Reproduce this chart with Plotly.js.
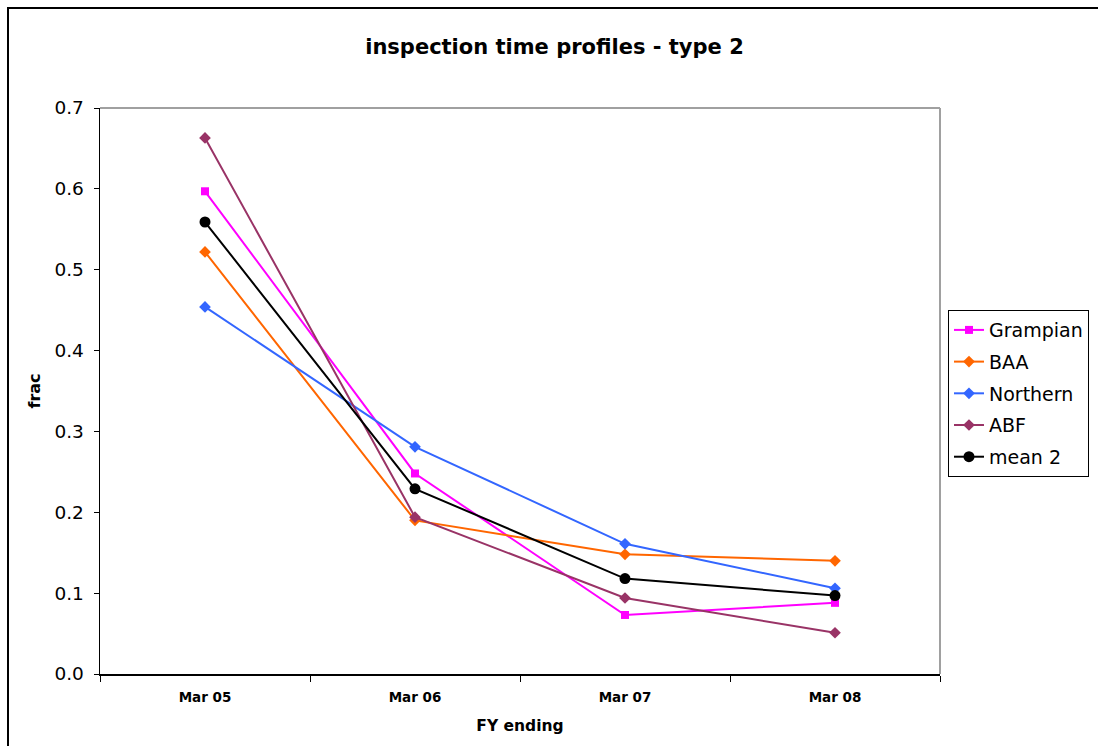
<!DOCTYPE html>
<html>
<head>
<meta charset="utf-8">
<script src="https://cdn.plot.ly/plotly-3.0.1.min.js"></script>
<style>
html,body{margin:0;padding:0;background:#fff;overflow:hidden;}
#frame{position:absolute;left:7px;top:7px;width:1200px;height:900px;border:2px solid #000;box-sizing:border-box;}
#chart{position:absolute;left:0;top:0;width:1098px;height:746px;}
</style>
</head>
<body>
<div id="frame"></div>
<div id="chart"></div>
<script>
const categories = ["Mar 05", "Mar 06", "Mar 07", "Mar 08"];
const grampian = [0.597, 0.248, 0.073, 0.088];
const baa = [0.522, 0.190, 0.148, 0.140];
const northern = [0.454, 0.281, 0.161, 0.106];
const abf = [0.663, 0.194, 0.094, 0.051];
const mean2 = [0.559, 0.229, 0.118, 0.097];

const font = "DejaVu Sans";

function tr(name, y, color, symbol, size) {
  return {
    type: "scatter", mode: "lines+markers", name: name, legendgroup: name,
    x: categories, y: y,
    line: {color: color, width: 2},
    marker: {color: color, symbol: symbol, size: size}
  };
}

const data = [
  tr("Grampian", grampian, "#FF00FF", "square", 8),
  tr("BAA", baa, "#FF6600", "diamond", 9),
  tr("Northern", northern, "#3366FF", "diamond", 9),
  tr("ABF", abf, "#993366", "diamond", 9),
  tr("mean 2", mean2, "#000000", "circle", 11)
];

const layout = {
  width: 1098, height: 746,
  paper_bgcolor: "rgba(0,0,0,0)", plot_bgcolor: "#fff",
  margin: {l: 100, r: 158, t: 108, b: 72, autoexpand: false},
  font: {family: font, color: "#000"},
  title: {text: "<b>inspection time profiles - type 2</b>", x: 0.505, xanchor: "center", y: 0.938, yanchor: "middle", font: {size: 21, family: font}},
  xaxis: {
    type: "category", range: [-0.5, 3.5], tickson: "boundaries",
    ticks: "outside", ticklen: 6, tickcolor: "#000", tickwidth: 1,
    showline: true, linecolor: "#000", linewidth: 1.5,
    showgrid: false, zeroline: false,
    tickfont: {size: 13.5, family: font}, ticklabelstandoff: 10,
    tickvals: categories, ticktext: categories.map(c => "<b>" + c + "</b>"),
    title: {text: "<b>FY ending</b>", font: {size: 15.5, family: font}, standoff: 16}
  },
  yaxis: {
    range: [0, 0.7], dtick: 0.1, tickformat: ".1f",
    ticks: "outside", ticklen: 5, tickcolor: "#000",
    showline: true, linecolor: "#000", linewidth: 1.5,
    showgrid: false, zeroline: false,
    tickfont: {size: 18.5, family: font}, ticklabelstandoff: 6,
    title: {text: "<b>frac</b>", font: {size: 16, family: font}, standoff: 10}
  },
  shapes: [
    {type: "line", xref: "paper", yref: "paper", x0: 0, x1: 1, y0: 1, y1: 1, line: {color: "#A0A0A0", width: 2}},
    {type: "line", xref: "paper", yref: "paper", x0: 1, x1: 1, y0: 0, y1: 1, line: {color: "#A0A0A0", width: 2}}
  ],
  showlegend: true,
  legend: {
    x: 1.0095, xanchor: "left", y: 0.643, yanchor: "top",
    bordercolor: "#000", borderwidth: 1, bgcolor: "#fff",
    font: {size: 19, family: font}, tracegroupgap: 4, itemwidth: 30
  }
};

Plotly.newPlot("chart", data, layout, {displayModeBar: false, staticPlot: true});
</script>
</body>
</html>
